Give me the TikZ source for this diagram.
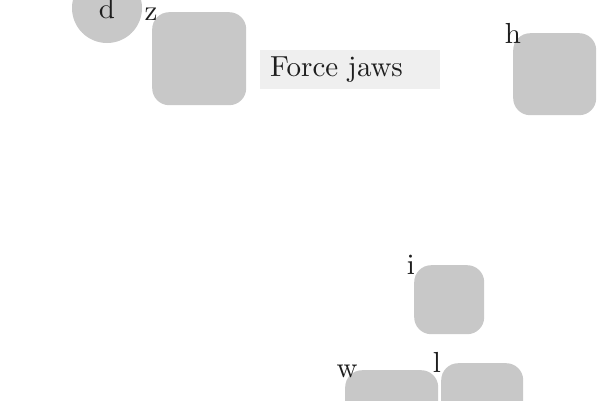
\documentclass[tikz,border=0pt]{standalone}
\font\tagfont=cmr10 at 29pt
\begin{document}
\begin{tikzpicture}[x=1pt,y=-1pt,
  blob/.style={fill=boxgray, draw=none, rounded corners=17pt, inner sep=0pt, anchor=north west},
  tag/.style={anchor=center, inner sep=0pt, text=txt, font=\tagfont}]
\definecolor{boxgray}{HTML}{C8C8C8}
\definecolor{lightbg}{HTML}{EFEFEF}
\definecolor{txt}{HTML}{1E1E1E}
\useasboundingbox (0,0) rectangle (600,400);
\fill[white] (0,0) rectangle (600,400);
% circle d
\node[circle, fill=boxgray, minimum size=70pt, inner sep=0pt, text=txt, font=\tagfont] (d) at (107,8) {d};
% boxes
\node[blob, minimum width=94pt, minimum height=93pt] (z) at (152,12) {};
\node[blob, minimum width=83pt, minimum height=82pt] (h) at (513,33) {};
\node[blob, minimum width=70pt, minimum height=69pt] (i) at (414,265) {};
\node[blob, minimum width=93pt, minimum height=90pt] (w) at (345,370) {};
\node[blob, minimum width=82pt, minimum height=90pt] (l) at (441,363) {};
% labels
\node[tag] (zl) at ([xshift=-1pt,yshift=-2pt]z.north west) {z};
\node[tag] (hl) at (h.north west) {h};
\node[tag] (il) at ([xshift=-3pt]i.north west) {i};
\node[tag] (wl) at ([xshift=2pt,yshift=-1pt]w.north west) {w};
\node[tag] (ll) at ([xshift=-4pt,yshift=1pt]l.north west) {l};
% Force jaws
\node[fill=lightbg, anchor=north west, minimum height=39pt, text width=160pt, inner xsep=10pt, inner ysep=0pt, align=left, text=txt, font=\tagfont] (fj) at (260,50) {Force jaws};
\end{tikzpicture}
\end{document}
